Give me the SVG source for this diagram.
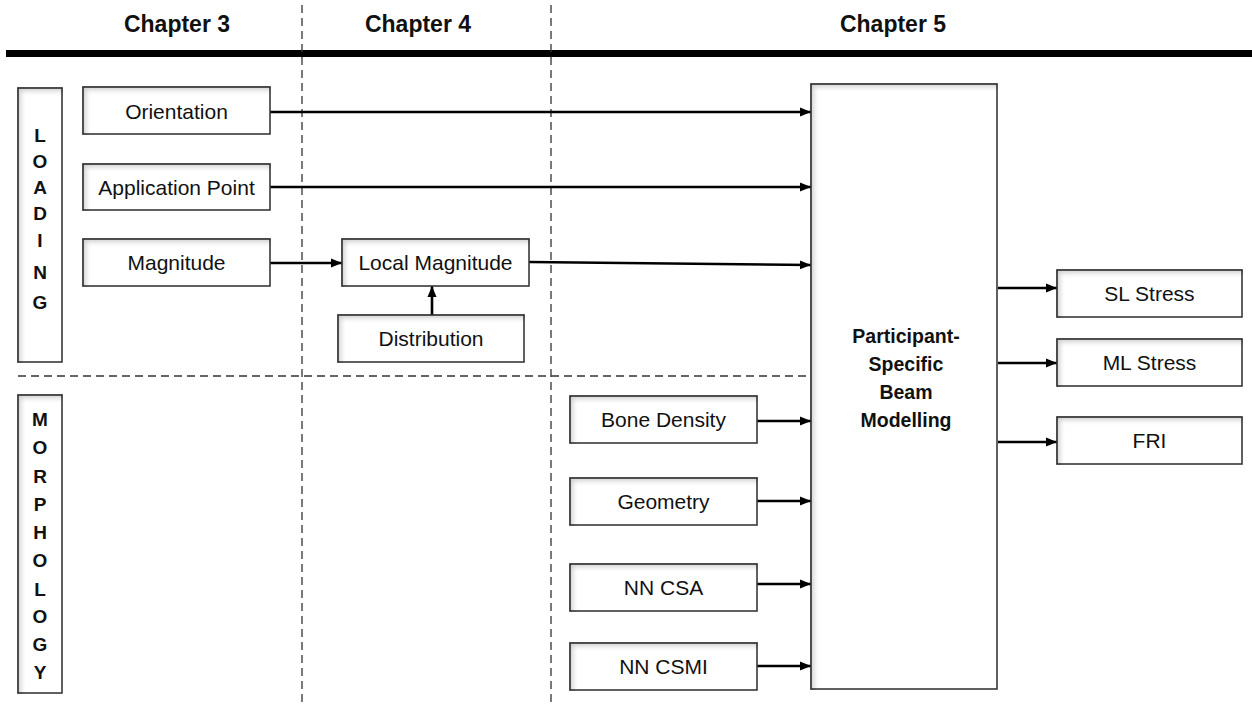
<svg xmlns="http://www.w3.org/2000/svg" width="1252" height="704" viewBox="0 0 1252 704">
  <defs>
    <style>
      .title { font-family: "Liberation Sans", Arial, sans-serif; font-weight: bold; font-size: 23px; fill: #111; text-anchor: middle; }
      .label { font-family: "Liberation Sans", Arial, sans-serif; font-size: 21px; fill: #111; text-anchor: middle; }
      .bold { font-family: "Liberation Sans", Arial, sans-serif; font-weight: bold; font-size: 19.5px; fill: #111; text-anchor: middle; }
      .letter { font-family: "Liberation Sans", Arial, sans-serif; font-weight: bold; font-size: 19px; fill: #111; text-anchor: middle; }
      .box { fill: #ffffff; stroke: #3a3a3a; stroke-width: 1.6; filter: url(#bevel); }
      .divider { stroke: #333; stroke-width: 1.3; stroke-dasharray: 8 5; fill: none; }
      .link { stroke: #000; stroke-width: 2.6; fill: none; marker-end: url(#arrow); }
    </style>
    <!-- inset shading along the top and left inner edges of each box -->
    <filter id="bevel" x="-20%" y="-20%" width="140%" height="140%">
      <feFlood flood-color="#000" result="flood"/>
      <feComposite in="flood" in2="SourceAlpha" operator="out" result="outside"/>
      <feOffset in="outside" dx="3.5" dy="3.5" result="shifted"/>
      <feGaussianBlur in="shifted" stdDeviation="2.4" result="soft"/>
      <feComposite in="soft" in2="SourceAlpha" operator="in" result="inner"/>
      <feComponentTransfer in="inner" result="shade">
        <feFuncA type="linear" slope="0.38"/>
      </feComponentTransfer>
      <feMerge>
        <feMergeNode in="SourceGraphic"/>
        <feMergeNode in="shade"/>
      </feMerge>
    </filter>
    <marker id="arrow" markerUnits="userSpaceOnUse" markerWidth="12" markerHeight="10" refX="11" refY="5" orient="auto">
      <path d="M0,0.5 L11,5 L0,9.5 Z" fill="#000"/>
    </marker>
  </defs>

  <!-- chapter headings and section dividers -->
  <g id="layout">
    <text class="title" x="177" y="32">Chapter 3</text>
    <text class="title" x="418" y="32">Chapter 4</text>
    <text class="title" x="893" y="32">Chapter 5</text>
    <rect x="6" y="50" width="1246" height="7" fill="#000"/>
    <line class="divider" x1="302" y1="5" x2="302" y2="704"/>
    <line class="divider" x1="551" y1="5" x2="551" y2="704"/>
    <line class="divider" x1="18" y1="376" x2="808" y2="376"/>
  </g>

  <g id="connectors">
    <line class="link" x1="270" y1="112" x2="811" y2="112"/>
    <line class="link" x1="270" y1="187" x2="811" y2="187"/>
    <line class="link" x1="270" y1="263" x2="342" y2="263"/>
    <line class="link" x1="529" y1="262" x2="811" y2="265"/>
    <line class="link" x1="432" y1="315" x2="432" y2="286"/>
    <line class="link" x1="757" y1="421" x2="811" y2="421"/>
    <line class="link" x1="757" y1="501" x2="811" y2="501"/>
    <line class="link" x1="757" y1="584" x2="811" y2="584"/>
    <line class="link" x1="757" y1="666" x2="811" y2="666"/>
    <line class="link" x1="998" y1="288" x2="1057" y2="288"/>
    <line class="link" x1="998" y1="363" x2="1057" y2="363"/>
    <line class="link" x1="998" y1="442" x2="1057" y2="442"/>
  </g>

  <g id="loading">
    <rect class="box" x="18" y="88" width="44" height="274"/>
    <text class="letter" x="40" y="142">L</text>
    <text class="letter" x="40" y="168">O</text>
    <text class="letter" x="40" y="194">A</text>
    <text class="letter" x="40" y="220">D</text>
    <text class="letter" x="40" y="247">I</text>
    <text class="letter" x="40" y="279">N</text>
    <text class="letter" x="40" y="309">G</text>
  </g>

  <g id="morphology">
    <rect class="box" x="18" y="395" width="44" height="298"/>
    <text class="letter" x="40" y="426">M</text>
    <text class="letter" x="40" y="454">O</text>
    <text class="letter" x="40" y="483">R</text>
    <text class="letter" x="40" y="511">P</text>
    <text class="letter" x="40" y="539">H</text>
    <text class="letter" x="40" y="567">O</text>
    <text class="letter" x="40" y="596">L</text>
    <text class="letter" x="40" y="623">O</text>
    <text class="letter" x="40" y="651">G</text>
    <text class="letter" x="40" y="679">Y</text>
  </g>

  <g id="orientation">
    <rect class="box" x="83" y="87" width="187" height="47"/>
    <text class="label" x="176.5" y="119">Orientation</text>
  </g>
  <g id="application-point">
    <rect class="box" x="83" y="164" width="187" height="46"/>
    <text class="label" x="176.5" y="195">Application Point</text>
  </g>
  <g id="magnitude">
    <rect class="box" x="83" y="239" width="187" height="47"/>
    <text class="label" x="176.5" y="270">Magnitude</text>
  </g>
  <g id="local-magnitude">
    <rect class="box" x="342" y="239" width="187" height="47"/>
    <text class="label" x="435.5" y="270">Local Magnitude</text>
  </g>
  <g id="distribution">
    <rect class="box" x="338" y="315" width="186" height="47"/>
    <text class="label" x="431" y="346">Distribution</text>
  </g>

  <g id="bone-density">
    <rect class="box" x="570" y="396" width="187" height="47"/>
    <text class="label" x="663.5" y="427">Bone Density</text>
  </g>
  <g id="geometry">
    <rect class="box" x="570" y="478" width="187" height="47"/>
    <text class="label" x="663.5" y="509">Geometry</text>
  </g>
  <g id="nn-csa">
    <rect class="box" x="570" y="564" width="187" height="47"/>
    <text class="label" x="663.5" y="595">NN CSA</text>
  </g>
  <g id="nn-csmi">
    <rect class="box" x="570" y="643" width="187" height="47"/>
    <text class="label" x="663.5" y="674">NN CSMI</text>
  </g>

  <g id="beam-modelling">
    <rect class="box" x="811" y="84" width="186" height="605"/>
    <text class="bold" x="906" y="343">Participant-</text>
    <text class="bold" x="906" y="371">Specific</text>
    <text class="bold" x="906" y="399">Beam</text>
    <text class="bold" x="906" y="427">Modelling</text>
  </g>

  <g id="sl-stress">
    <rect class="box" x="1057" y="270" width="185" height="47"/>
    <text class="label" x="1149.5" y="301">SL Stress</text>
  </g>
  <g id="ml-stress">
    <rect class="box" x="1057" y="339" width="185" height="47"/>
    <text class="label" x="1149.5" y="370">ML Stress</text>
  </g>
  <g id="fri">
    <rect class="box" x="1057" y="417" width="185" height="47"/>
    <text class="label" x="1149.5" y="448">FRI</text>
  </g>
</svg>
